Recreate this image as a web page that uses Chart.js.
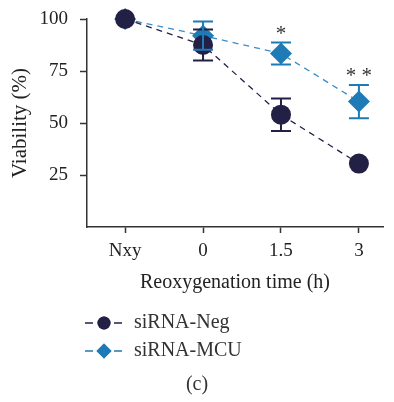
<!DOCTYPE html>
<html>
<head>
<meta charset="utf-8">
<script src="https://cdn.jsdelivr.net/npm/chart.js@4"></script>
<style>
  html, body { margin: 0; padding: 0; background: #fff; }
  #wrap { width: 394px; height: 402px; }
</style>
</head>
<body>
<div id="wrap"><canvas id="myChart" width="394" height="402"></canvas></div>
<script>
// data
const categories = ['Nxy', '0', '1.5', '3'];
const negMean = [100, 87.5, 54, 30.5];
const negErr  = [0, 7.5, 7.8, 0];
const mcuMean = [100, 92, 83.4, 60.3];
const mcuErr  = [0, 6.8, 5.3, 8];
const marks   = ['', '', '*', '* *'];   // significance over siRNA-MCU
const yTicks  = [25, 50, 75, 100];

const NEG = '#232046';
const MCU = '#1f7bb6';
const SERIF = '"Liberation Serif", "DejaVu Serif", serif';

const toPts = arr => arr.map((v, i) => ({ x: i, y: v }));

// error bars + asterisks + legend + panel label
const extras = {
  id: 'extras',
  afterDatasetsDraw(chart) {
    const { ctx, scales: { x, y } } = chart;
    ctx.save();
    const bars = [[negMean, negErr, NEG], [mcuMean, mcuErr, MCU]];
    bars.forEach(([m, e, col]) => {
      ctx.strokeStyle = col;
      ctx.lineWidth = 2;
      m.forEach((v, i) => {
        if (!e[i]) return;
        const px = x.getPixelForValue(i);
        const hi = y.getPixelForValue(v + e[i]);
        const lo = y.getPixelForValue(v - e[i]);
        ctx.beginPath();
        ctx.moveTo(px, hi); ctx.lineTo(px, lo);
        ctx.moveTo(px - 10, hi); ctx.lineTo(px + 10, hi);
        ctx.moveTo(px - 10, lo); ctx.lineTo(px + 10, lo);
        ctx.stroke();
      });
    });

    ctx.fillStyle = '#333';
    ctx.font = '21px ' + SERIF;
    ctx.textAlign = 'center';
    ctx.textBaseline = 'middle';
    marks.forEach((s, i) => {
      if (!s) return;
      const px = x.getPixelForValue(i);
      const py = y.getPixelForValue(mcuMean[i] + mcuErr[i]) - 8;
      ctx.fillText(s, px, py);
    });

    // legend
    const items = [['siRNA-Neg', NEG, 'circle'], ['siRNA-MCU', MCU, 'rectRot']];
    items.forEach(([label, col, style], k) => {
      const ly = 323 + k * 28;
      ctx.strokeStyle = col;
      ctx.lineWidth = 1.5;
      ctx.beginPath();
      ctx.moveTo(85, ly); ctx.lineTo(93, ly);
      ctx.moveTo(114, ly); ctx.lineTo(122, ly);
      ctx.stroke();
      ctx.fillStyle = col;
      Chart.helpers.drawPoint(ctx, { pointStyle: style, radius: style === 'circle' ? 6.5 : 7.5, borderWidth: 0 }, 104, ly);
      ctx.fill();
      ctx.fillStyle = '#333';
      ctx.font = '20px ' + SERIF;
      ctx.textAlign = 'left';
      ctx.fillText(label, 134, ly);
    });

    ctx.font = '20px ' + SERIF;
    ctx.textAlign = 'center';
    ctx.fillText('(c)', 197, 385);
    ctx.restore();
  }
};

const data = {
  datasets: [
    {
      label: 'siRNA-Neg',
      data: toPts(negMean),
      borderColor: NEG,
      backgroundColor: NEG,
      borderWidth: 1.3,
      borderDash: [6, 5],
      pointStyle: 'circle',
      pointRadius: 10,
      pointBorderWidth: 0,
      clip: false,
    },
    {
      label: 'siRNA-MCU',
      data: toPts(mcuMean),
      borderColor: '#3a8dc8',
      backgroundColor: MCU,
      pointBackgroundColor: MCU,
      borderWidth: 1.3,
      borderDash: [6, 5],
      pointStyle: 'rectRot',
      pointRadius: 11,
      pointBorderWidth: 0,
      clip: false,
    }
  ]
};

const config = {
  type: 'line',
  data: data,
  plugins: [extras],
  options: {
    animation: false,
    responsive: false,
    layout: { padding: { top: 19, right: 0, bottom: 0, left: 0 } },
    plugins: {
      legend: { display: false },
      tooltip: { enabled: false }
    },
    scales: {
      x: {
        type: 'linear',
        min: -0.489,
        max: 3.309,
        afterBuildTicks: s => { s.ticks = categories.map((c, i) => ({ value: i })); },
        afterFit: s => { s.height = 175; s.paddingLeft = 0; s.paddingRight = 0; },
        ticks: {
          callback: v => categories[v],
          color: '#222',
          font: { family: SERIF, size: 19 },
          padding: 7,
          maxRotation: 0,
        },
        grid: { drawOnChartArea: false, drawTicks: true, tickLength: 6, tickColor: '#333', tickWidth: 1.5 },
        border: { color: '#333', width: 1.5 },
        title: {
          display: true,
          text: 'Reoxygenation time (h)',
          color: '#222',
          font: { family: SERIF, size: 20 },
          padding: { top: 0, bottom: 107 }
        }
      },
      y: {
        min: 0,
        max: 100,
        afterBuildTicks: s => { s.ticks = yTicks.map(v => ({ value: v })); },
        afterFit: s => { s.width = 87; s.paddingTop = 0; s.paddingBottom = 0; },
        ticks: {
          color: '#222',
          font: { family: SERIF, size: 19 },
          padding: 12,
        },
        grid: { drawOnChartArea: false, drawTicks: true, tickLength: 7, tickColor: '#333', tickWidth: 1.5 },
        border: { color: '#333', width: 1.5 },
        title: {
          display: true,
          text: 'Viability (%)',
          color: '#222',
          font: { family: SERIF, size: 21 },
          padding: { top: 8, bottom: 0 }
        }
      }
    }
  }
};

const myChart = new Chart(document.getElementById('myChart'), config);
</script>
</body>
</html>
